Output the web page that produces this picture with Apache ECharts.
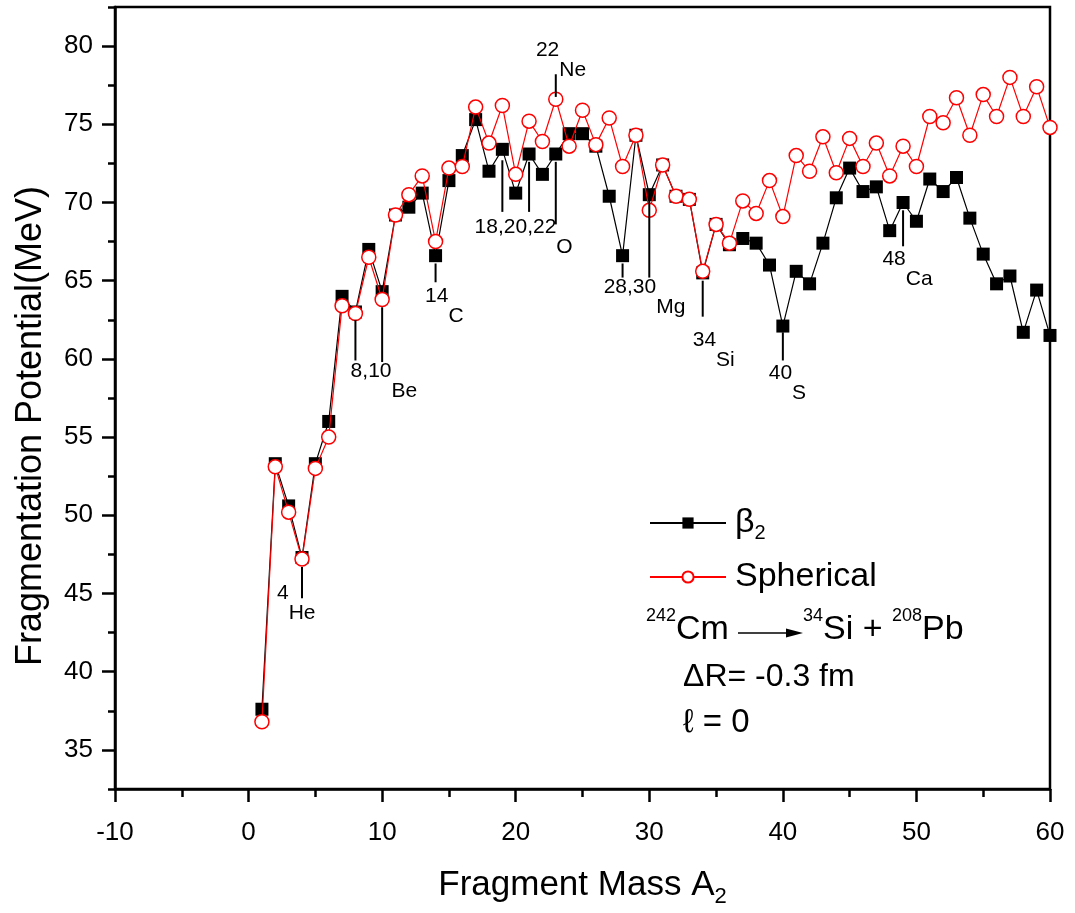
<!DOCTYPE html>
<html>
<head>
<meta charset="utf-8">
<script src="https://cdn.jsdelivr.net/npm/echarts@6/dist/echarts.min.js"></script>
<style>
html,body{margin:0;padding:0;background:#fff;}
#chart{width:1075px;height:913px;}
</style>
</head>
<body>
<div id="chart"></div>
<script>
const FONT = "'Liberation Sans',Arial,Helvetica,sans-serif";

const masses = [1,2,3,4,5,6,7,8,9,10,11,12,13,14,15,16,17,18,19,20,21,22,23,24,25,26,27,28,29,30,31,32,33,34,35,36,37,38,39,40,41,42,43,44,45,46,47,48,49,50,51,52,53,54,55,56,57,58,59,60];
const beta2 = [37.6,53.3,50.6,47.3,53.3,56.0,64.0,63.0,67.0,64.3,
               69.2,69.7,70.6,66.6,71.4,73.0,75.3,72.0,73.4,70.6,
               73.1,71.8,73.1,74.4,74.4,73.6,70.4,66.6,74.3,70.5,
               72.4,70.4,70.2,65.5,68.6,67.3,67.7,67.4,66.0,62.1,
               65.6,64.8,67.4,70.3,72.2,70.7,71.0,68.2,70.0,68.8,
               71.5,70.7,71.6,69.0,66.7,64.8,65.3,61.7,64.4,61.5];
const spherical = [36.8,53.1,50.2,47.2,53.0,55.0,63.4,62.9,66.5,63.8,
                   69.2,70.5,71.7,67.5,72.2,72.3,76.1,73.8,76.2,71.8,
                   75.2,73.9,76.6,73.6,75.9,73.7,75.4,72.3,74.3,69.5,
                   72.4,70.4,70.2,65.6,68.6,67.4,70.1,69.3,71.4,69.1,
                   73.0,72.0,74.2,71.9,74.1,72.3,73.8,71.7,73.6,72.3,
                   75.5,75.1,76.7,74.3,76.9,75.5,78.0,75.5,77.4,74.8];

const xTicks = [-10,0,10,20,30,40,50,60];
const yMajorTicks = [35,40,45,50,55,60,65,70,75,80];
const yMinorTicks = [32.5,37.5,42.5,47.5,52.5,57.5,62.5,67.5,72.5,77.5,82.5];

// leader lines: [mass, top value, bottom value]
const leaderLines = [[4,46.7,44.7],[8,62.5,59.9],[10,63.3,59.8],[14,66.1,64.9],
  [19,72.7,69.4],[21,72.6,69.4],[23,72.6,68.6],[23,78.2,76.75],
  [28,66.1,65.2],[30,70.2,65.2],[34,65.0,62.7],[40,61.7,59.9],[49,69.5,67.2]];
// isotope labels: [anchor mass, anchor value, mass number text, element]
const isotopeLabels = [[3.0,45.0,'4','He'],[10.7,59.2,'8,10','Be'],[14.96,64.0,'14','C'],
  [23.04,68.4,'18,20,22','O'],[23.26,79.76,'22','Ne'],[30.52,64.6,'28,30','Mg'],
  [35.0,61.2,'34','Si'],[40.69,59.07,'40','S'],[49.2,66.4,'48','Ca']];

const chart = echarts.init(document.getElementById('chart'));
const pair = (xs, ys) => xs.map((x, i) => [x, ys[i]]);

chart.setOption({
  animation: false,
  backgroundColor: '#fff',
  grid: {left: 115, right: 25, top: 7, bottom: 124, show: true, borderColor: '#000', borderWidth: 2.5, backgroundColor: 'transparent'},
  legend: {
    data: ['β2', 'Spherical'],
    orient: 'vertical', left: 644, top: 501,
    itemWidth: 76, itemHeight: 14, itemGap: 17,
    formatter: n => n === 'β2' ? '{m|β}{s|2}' : '{m|Spherical}',
    textStyle: {
      fontFamily: FONT, color: '#000', padding: [0, 0, 0, 4],
      rich: {
        m: {fontFamily: FONT, fontSize: 34, lineHeight: 40, color: '#000'},
        s: {fontFamily: FONT, fontSize: 20, lineHeight: 20, verticalAlign: 'bottom', color: '#000'}
      }
    }
  },
  xAxis: {
    type: 'value', min: -10, max: 60, interval: 10,
    name: 'Fragment Mass A{s|2}', nameLocation: 'middle', nameGap: 73,
    nameTextStyle: {fontFamily: FONT, fontSize: 35, color: '#000', lineHeight: 46,
      rich: {s: {fontFamily: FONT, fontSize: 22, lineHeight: 22, verticalAlign: 'bottom', color: '#000'}}},
    axisLine: {show: true, onZero: false, lineStyle: {color: '#000', width: 2.5}},
    axisTick: {show: true, inside: false, length: 13, lineStyle: {color: '#000', width: 2.5}},
    minorTick: {show: true, splitNumber: 2, length: 8, lineStyle: {color: '#000', width: 2.5}},
    axisLabel: {fontFamily: FONT, fontSize: 26, color: '#000', margin: 31,
      customValues: xTicks},
    splitLine: {show: false}
  },
  yAxis: [{
    type: 'value', min: 32.5, max: 82.5,
    name: 'Fragmentation Potential(MeV)', nameLocation: 'middle', nameGap: 66,
    nameTextStyle: {fontFamily: FONT, fontSize: 36, color: '#000', padding: [0, 56, 0, 0]},
    axisLine: {show: true, onZero: false, lineStyle: {color: '#000', width: 2.5}},
    axisTick: {show: true, inside: false, length: 13, customValues: yMajorTicks, lineStyle: {color: '#000', width: 2.5}},
    axisLabel: {fontFamily: FONT, fontSize: 26, color: '#000', margin: 22, customValues: yMajorTicks},
    splitLine: {show: false}
  }, {
    type: 'value', min: 32.5, max: 82.5, position: 'left', offset: 0,
    axisLine: {show: false, onZero: false},
    axisTick: {show: true, inside: false, length: 7, customValues: yMinorTicks, lineStyle: {color: '#000', width: 2.5}},
    axisLabel: {show: false},
    splitLine: {show: false}
  }],
  series: [{
    name: 'β2', type: 'line', data: pair(masses, beta2),
    symbol: 'rect', symbolSize: 13, z: 3,
    itemStyle: {color: '#000'},
    lineStyle: {color: '#000', width: 1.2}
  }, {
    name: 'Spherical', type: 'line', data: pair(masses, spherical),
    symbol: 'circle', symbolSize: 14, z: 4,
    itemStyle: {color: '#fff', borderColor: '#ff0000', borderWidth: 1.5},
    lineStyle: {color: '#ff0000', width: 1.2}
  }, {
    type: 'custom', z: 5, silent: true,
    data: leaderLines,
    renderItem: (params, api) => {
      const d = leaderLines[params.dataIndex];
      const p1 = api.coord([d[0], d[1]]);
      const p2 = api.coord([d[0], d[2]]);
      return {type: 'line', shape: {x1: p1[0], y1: p1[1], x2: p2[0], y2: p2[1]},
        style: {stroke: '#000', lineWidth: 2}};
    }
  }, {
    type: 'custom', z: 5, silent: true,
    data: isotopeLabels.map(d => [d[0], d[1]]),
    renderItem: (params, api) => {
      const d = isotopeLabels[params.dataIndex];
      const p = api.coord([d[0], d[1]]);
      return {type: 'group', children: [
        {type: 'text', x: p[0], y: p[1], style: {text: d[2], align: 'right', verticalAlign: 'middle', fontFamily: FONT, fontSize: 21, fill: '#000'}},
        {type: 'text', x: p[0], y: p[1] + 20, style: {text: d[3], align: 'left', verticalAlign: 'middle', fontFamily: FONT, fontSize: 21, fill: '#000'}}
      ]};
    }
  }],
  graphic: [
    {type: 'text', left: 646, top: 607, style: {
      text: '{p|242}{m|Cm}', fontFamily: FONT,
      rich: {p: {fontFamily: FONT, fontSize: 18, lineHeight: 18, verticalAlign: 'top', fill: '#000'},
             m: {fontFamily: FONT, fontSize: 34, lineHeight: 46, fill: '#000'}}}},
    {type: 'line', shape: {x1: 738, y1: 633, x2: 790, y2: 633}, style: {stroke: '#000', lineWidth: 1.5}},
    {type: 'polygon', shape: {points: [[786, 628.5], [803, 633], [786, 637.5]]}, style: {fill: '#000'}},
    {type: 'text', left: 803, top: 607, style: {
      text: '{p|34}{m|Si + }{p|208}{m|Pb}', fontFamily: FONT,
      rich: {p: {fontFamily: FONT, fontSize: 18, lineHeight: 18, verticalAlign: 'top', fill: '#000'},
             m: {fontFamily: FONT, fontSize: 34, lineHeight: 46, fill: '#000'}}}},
    {type: 'text', left: 683, top: 661, style: {text: 'ΔR= -0.3 fm', fontFamily: FONT, fontSize: 32, fill: '#000'}},
    {type: 'text', left: 683, top: 706, style: {text: 'ℓ = 0', fontFamily: FONT, fontSize: 33, fill: '#000'}}
  ]
});
</script>
</body>
</html>
